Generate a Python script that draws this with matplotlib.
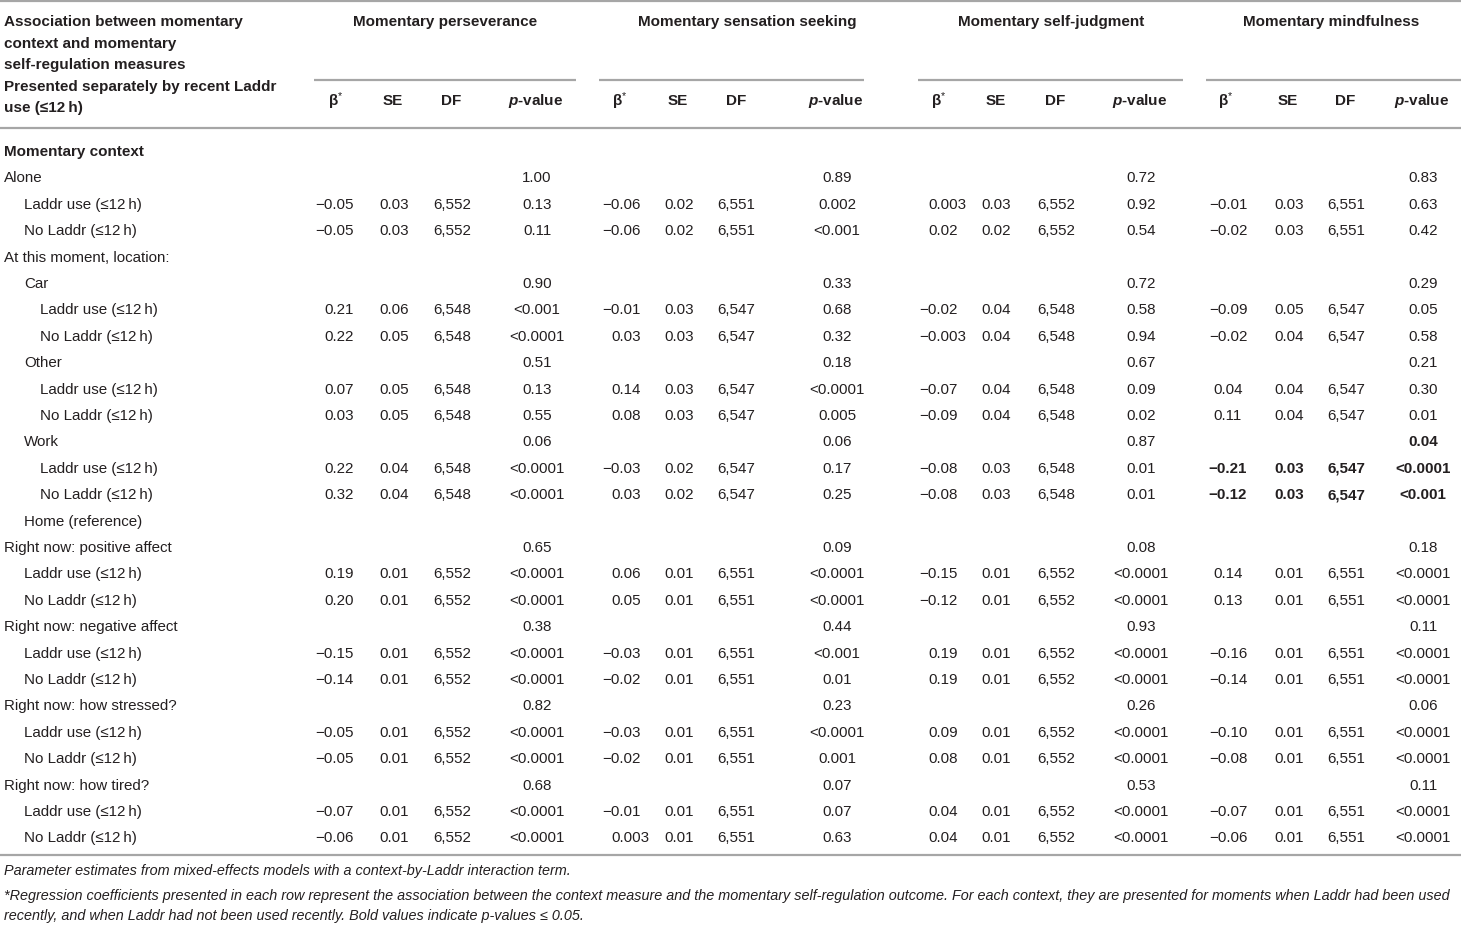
import matplotlib
matplotlib.use("Agg")
import matplotlib.pyplot as plt
from matplotlib import font_manager

# ---------------- data ----------------
LU = "Laddr use (≤12\u2009h)"
NL = "No Laddr (≤12\u2009h)"
row_labels = [
    "Momentary context", "Alone", LU, NL,
    "At this moment, location:", "Car", LU, NL,
    "Other", LU, NL,
    "Work", LU, NL, "Home (reference)",
    "Right now: positive affect", LU, NL,
    "Right now: negative affect", LU, NL,
    "Right now: how stressed?", LU, NL,
    "Right now: how tired?", LU, NL,
]
row_levels = [0, 0, 1, 1, 0, 1, 2, 2, 1, 2, 2, 1, 2, 2, 1,
              0, 1, 1, 0, 1, 1, 0, 1, 1, 0, 1, 1]

measures = ["Momentary perseverance", "Momentary sensation seeking",
            "Momentary self-judgment", "Momentary mindfulness"]
sub_headers = ["β$^{*}$", "SE", "DF", r"$\mathbfit{p}$-value"]

E = ""
perseverance_beta = [E, E, "−0.05", "−0.05", E, E, "0.21", "0.22", E, "0.07", "0.03", E, "0.22", "0.32", E,
                     E, "0.19", "0.20", E, "−0.15", "−0.14", E, "−0.05", "−0.05", E, "−0.07", "−0.06"]
perseverance_se = [E, E, "0.03", "0.03", E, E, "0.06", "0.05", E, "0.05", "0.05", E, "0.04", "0.04", E,
                   E, "0.01", "0.01", E, "0.01", "0.01", E, "0.01", "0.01", E, "0.01", "0.01"]
perseverance_df = [E, E, "6,552", "6,552", E, E, "6,548", "6,548", E, "6,548", "6,548", E, "6,548", "6,548", E,
                   E, "6,552", "6,552", E, "6,552", "6,552", E, "6,552", "6,552", E, "6,552", "6,552"]
perseverance_p = [E, "1.00", "0.13", "0.11", E, "0.90", "<0.001", "<0.0001", "0.51", "0.13", "0.55",
                  "0.06", "<0.0001", "<0.0001", E, "0.65", "<0.0001", "<0.0001", "0.38", "<0.0001", "<0.0001",
                  "0.82", "<0.0001", "<0.0001", "0.68", "<0.0001", "<0.0001"]

sensation_beta = [E, E, "−0.06", "−0.06", E, E, "−0.01", "0.03", E, "0.14", "0.08", E, "−0.03", "0.03", E,
                  E, "0.06", "0.05", E, "−0.03", "−0.02", E, "−0.03", "−0.02", E, "−0.01", "0.003"]
sensation_se = [E, E, "0.02", "0.02", E, E, "0.03", "0.03", E, "0.03", "0.03", E, "0.02", "0.02", E,
                E, "0.01", "0.01", E, "0.01", "0.01", E, "0.01", "0.01", E, "0.01", "0.01"]
sensation_df = [E, E, "6,551", "6,551", E, E, "6,547", "6,547", E, "6,547", "6,547", E, "6,547", "6,547", E,
                E, "6,551", "6,551", E, "6,551", "6,551", E, "6,551", "6,551", E, "6,551", "6,551"]
sensation_p = [E, "0.89", "0.002", "<0.001", E, "0.33", "0.68", "0.32", "0.18", "<0.0001", "0.005",
               "0.06", "0.17", "0.25", E, "0.09", "<0.0001", "<0.0001", "0.44", "<0.001", "0.01",
               "0.23", "<0.0001", "0.001", "0.07", "0.07", "0.63"]

judgment_beta = [E, E, "0.003", "0.02", E, E, "−0.02", "−0.003", E, "−0.07", "−0.09", E, "−0.08", "−0.08", E,
                 E, "−0.15", "−0.12", E, "0.19", "0.19", E, "0.09", "0.08", E, "0.04", "0.04"]
judgment_se = [E, E, "0.03", "0.02", E, E, "0.04", "0.04", E, "0.04", "0.04", E, "0.03", "0.03", E,
               E, "0.01", "0.01", E, "0.01", "0.01", E, "0.01", "0.01", E, "0.01", "0.01"]
judgment_df = [E, E, "6,552", "6,552", E, E, "6,548", "6,548", E, "6,548", "6,548", E, "6,548", "6,548", E,
               E, "6,552", "6,552", E, "6,552", "6,552", E, "6,552", "6,552", E, "6,552", "6,552"]
judgment_p = [E, "0.72", "0.92", "0.54", E, "0.72", "0.58", "0.94", "0.67", "0.09", "0.02",
              "0.87", "0.01", "0.01", E, "0.08", "<0.0001", "<0.0001", "0.93", "<0.0001", "<0.0001",
              "0.26", "<0.0001", "<0.0001", "0.53", "<0.0001", "<0.0001"]

mindfulness_beta = [E, E, "−0.01", "−0.02", E, E, "−0.09", "−0.02", E, "0.04", "0.11", E, "−0.21", "−0.12", E,
                    E, "0.14", "0.13", E, "−0.16", "−0.14", E, "−0.10", "−0.08", E, "−0.07", "−0.06"]
mindfulness_se = [E, E, "0.03", "0.03", E, E, "0.05", "0.04", E, "0.04", "0.04", E, "0.03", "0.03", E,
                  E, "0.01", "0.01", E, "0.01", "0.01", E, "0.01", "0.01", E, "0.01", "0.01"]
mindfulness_df = [E, E, "6,551", "6,551", E, E, "6,547", "6,547", E, "6,547", "6,547", E, "6,547", "6,547", E,
                  E, "6,551", "6,551", E, "6,551", "6,551", E, "6,551", "6,551", E, "6,551", "6,551"]
mindfulness_p = [E, "0.83", "0.63", "0.42", E, "0.29", "0.05", "0.58", "0.21", "0.30", "0.01",
                 "0.04", "<0.0001", "<0.001", E, "0.18", "<0.0001", "<0.0001", "0.11", "<0.0001", "<0.0001",
                 "0.06", "<0.0001", "<0.0001", "0.11", "<0.0001", "<0.0001"]

# rows of the mindfulness block shown in bold (p <= 0.05 highlight)
mindfulness_bold_rows = [11, 12, 13]

header_left = ["Association between momentary", "context and momentary",
               "self-regulation measures", "Presented separately by recent Laddr",
               "use (≤12\u2009h)"]
footnotes = [
    "Parameter estimates from mixed-effects models with a context-by-Laddr interaction term.",
    "*Regression coefficients presented in each row represent the association between the context measure and the momentary self-regulation outcome. For each context, they are presented for moments when Laddr had been used",
    "recently, and when Laddr had not been used recently. Bold values indicate p-values ≤ 0.05.",
]

blocks = [
    (perseverance_beta, perseverance_se, perseverance_df, perseverance_p),
    (sensation_beta, sensation_se, sensation_df, sensation_p),
    (judgment_beta, judgment_se, judgment_df, judgment_p),
    (mindfulness_beta, mindfulness_se, mindfulness_df, mindfulness_p),
]

# ---------------- layout ----------------
W, H = 1461, 928
FONT = "Liberation Sans"
plt.rcParams["font.family"] = [FONT, "DejaVu Sans"]
plt.rcParams["mathtext.fontset"] = "custom"
plt.rcParams["mathtext.rm"] = FONT
plt.rcParams["mathtext.it"] = FONT + ":italic"
plt.rcParams["mathtext.bf"] = FONT + ":bold"
plt.rcParams["mathtext.bfit"] = FONT + ":italic:bold"

fig = plt.figure(figsize=(W / 100, H / 100), dpi=100)
ax = fig.add_axes([0, 0, 1, 1])
ax.set_xlim(0, W)
ax.set_ylim(H, 0)
ax.axis("off")

LINE_C = "#a6a6a6"
TXT_C = "#231f20"
FS = 10.9
FS_B = 11.0
DIGIT_W = 0.556 * FS * 100 / 72

# horizontal rules
for yy in (2, 129, 856):
    ax.plot([0, W], [yy, yy], color=LINE_C, lw=1.6, solid_capstyle="butt")
group_spans = [(314, 576), (599, 864), (918, 1183), (1206, 1461)]
for x0, x1 in group_spans:
    ax.plot([x0, x1], [81, 81], color=LINE_C, lw=1.6, solid_capstyle="butt")

# header left
for i, t in enumerate(header_left):
    ax.text(4, 22 + i * 21.6, t, fontsize=FS_B, fontweight="bold", color=TXT_C,
            ha="left", va="center")

title_x = [445, 747, 1051, 1331]
for t, x in zip(measures, title_x):
    ax.text(x, 22, t, fontsize=FS_B, fontweight="bold", color=TXT_C, ha="center", va="center")

head_x = [
    [336, 393, 451, 536],
    [620, 678, 736, 836],
    [939, 996, 1055, 1140],
    [1226, 1288, 1345, 1422],
]
for cols in head_x:
    for t, x in zip(sub_headers, cols):
        ax.text(x, 101, t, fontsize=FS_B, fontweight="bold", color=TXT_C, ha="center", va="center")

# value columns: beta is decimal aligned (right edge for 2 decimals) in blocks 1-3, centred in block 4
beta_right = [354, 641, 958, None]
beta_center4 = 1228
val_x = [
    [394, 452, 537],
    [679, 736, 837],
    [996, 1056, 1141],
    [1289, 1346, 1423],
]

indent = [4, 24, 40]
y0, dy = 152, 26.4
for r, (lab, lev) in enumerate(zip(row_labels, row_levels)):
    y = y0 + r * dy
    ax.text(indent[lev], y, lab, fontsize=FS_B if r == 0 else FS,
            fontweight="bold" if r == 0 else "normal", color=TXT_C, ha="left", va="center")
    for b, block in enumerate(blocks):
        bold = (b == 3 and r in mindfulness_bold_rows)
        wt = "bold" if bold else "normal"
        beta = block[0][r]
        if beta:
            if beta_right[b] is not None:
                ndec = len(beta.split(".")[1])
                ax.text(beta_right[b] + (ndec - 2) * DIGIT_W, y, beta, fontsize=FS, fontweight=wt,
                        color=TXT_C, ha="right", va="center")
            else:
                ax.text(beta_center4, y, beta, fontsize=FS, fontweight=wt,
                        color=TXT_C, ha="center", va="center")
        for vals, x in zip(block[1:], val_x[b]):
            v = vals[r]
            if v:
                ax.text(x, y, v, fontsize=FS, fontweight=wt,
                        color=TXT_C, ha="center", va="center")

# footnotes (condensed italic if available)
try:
    font_manager.findfont(font_manager.FontProperties(family="Liberation Sans Narrow"),
                          fallback_to_default=False)
    FOOT = "Liberation Sans Narrow"
except Exception:
    FOOT = FONT
foot_y = [871, 896, 916]
fts = []
for t, y in zip(footnotes, foot_y):
    fts.append(ax.text(4, y, t, fontsize=9.5, fontstyle="italic", family=[FOOT, "DejaVu Sans"],
                       color=TXT_C, ha="left", va="center"))
fig.canvas.draw()
rend = fig.canvas.get_renderer()
wid = fts[1].get_window_extent(rend).width
scale = 1452 / wid
for t in fts:
    t.set_fontsize(9.5 * scale)

fig.savefig("out.png", dpi=100, facecolor="white")
